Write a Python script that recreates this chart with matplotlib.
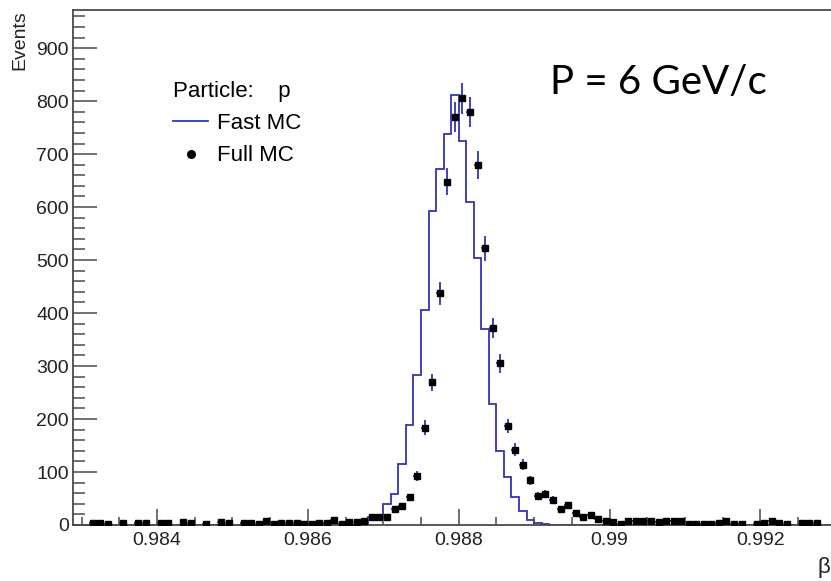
import numpy as np
import matplotlib
matplotlib.use("Agg")
import matplotlib.pyplot as plt
from matplotlib.lines import Line2D
from matplotlib.ticker import MultipleLocator, FuncFormatter

plt.rcParams['font.family'] = ['Liberation Sans', 'DejaVu Sans']

# binning in beta, 101 bins of 1e-4 starting at 0.9829
bin_lo = 0.9829
bin_width = 0.0001
n_bins = 101

# Fast MC histogram counts (zero outside the peak)
fast_mc = [0] * 39 + [15, 15, 40, 58, 116, 189, 284, 405, 593, 672, 738, 811,
                      725, 609, 503, 369, 228, 140, 91, 53, 27, 9, 4, 2] + [0] * 38

# Full MC counts, nan = empty bin (not drawn)
nan = np.nan
full_mc = [nan, nan, 3, 3, 1, nan, 4, nan, 3, 3,
           nan, 3, 3, nan, 6, 3, nan, 1, nan, 6,
           3, nan, 3, 3, 1, 8, 1, 3, 3, 3,
           1, 2, 3, 3, 10, 1, 6, 6, 8, 15,
           16, 16, 30, 35, 52, 93, 184, 269, 437, 648,
           770, 805, 780, 679, 522, 372, 305, 187, 142, 114,
           84, 55, 58, 47, 31, 38, 23, 15, 19, 11,
           7, 6, 1, 8, 8, 8, 8, 6, 8, 8,
           8, 2, 1, 1, 2, 4, 8, 2, 1, nan,
           1, 3, 8, 3, 1, nan, 4, 4, 4, nan,
           nan]

x_ticks = [0.984, 0.986, 0.988, 0.990, 0.992]

blue = '#3434b4'
frame = '#4a4a4a'

edges = bin_lo + bin_width * np.arange(n_bins + 1)
centers = edges[:-1] + bin_width / 2
full = np.array(full_mc, dtype=float)

fig = plt.figure(figsize=(8.31, 5.81), dpi=100)
ax = fig.add_axes([0.0878, 0.0964, 0.918, 0.8864])

ax.stairs(fast_mc, edges, color=blue, lw=1.3)
ax.errorbar(centers, full, yerr=np.sqrt(full), xerr=bin_width / 2,
            fmt='s', ms=4.8, mfc='k', mec='k', ecolor=blue, elinewidth=1.3,
            capsize=0, zorder=3)

ax.set_xlim(0.982886, 0.993)
ax.set_ylim(0, 972)

ax.xaxis.set_major_locator(plt.FixedLocator(x_ticks))
ax.xaxis.set_major_formatter(FuncFormatter(lambda v, p: f"{round(v, 4):g}"))
ax.xaxis.set_minor_locator(MultipleLocator(0.0005))
ax.yaxis.set_major_locator(MultipleLocator(100))
ax.yaxis.set_minor_locator(MultipleLocator(20))

ax.tick_params(which='both', direction='in', color=frame, width=1.1,
               labelsize=14, labelcolor='#222222')
ax.tick_params(axis='x', which='major', length=11.2, pad=5)
ax.tick_params(axis='x', which='minor', length=5.8)
ax.tick_params(axis='y', which='major', length=17, pad=3)
ax.tick_params(axis='y', which='minor', length=8.5)

for s in ax.spines.values():
    s.set_color(frame)
    s.set_linewidth(1.3)

ax.set_ylabel('Events', fontsize=14, loc='top', color='#222222')
ax.yaxis.set_label_coords(-0.059, 1.0)

handles = [Line2D([], [], color=blue, lw=1.3),
           Line2D([], [], ls='none', marker='o', ms=5.5, color='k')]
ax.legend(handles, ['Fast MC', 'Full MC'], title='Particle:    p',
          alignment='left', frameon=False, fontsize=16, title_fontsize=16,
          loc='upper left', bbox_to_anchor=(0.131, 0.862),
          handlelength=1.6, handletextpad=0.4, labelspacing=0.5,
          borderaxespad=0, borderpad=0)

fig.text(550 / 831, 1 - 83 / 581, 'P = 6 GeV/c', family='Lato', fontsize=29,
         ha='left', va='center', color='black')
fig.text(824 / 831, 1 - 568 / 581, 'β', fontsize=16, ha='center', va='center',
         color='#222222')

fig.savefig('out.png', dpi=100)
